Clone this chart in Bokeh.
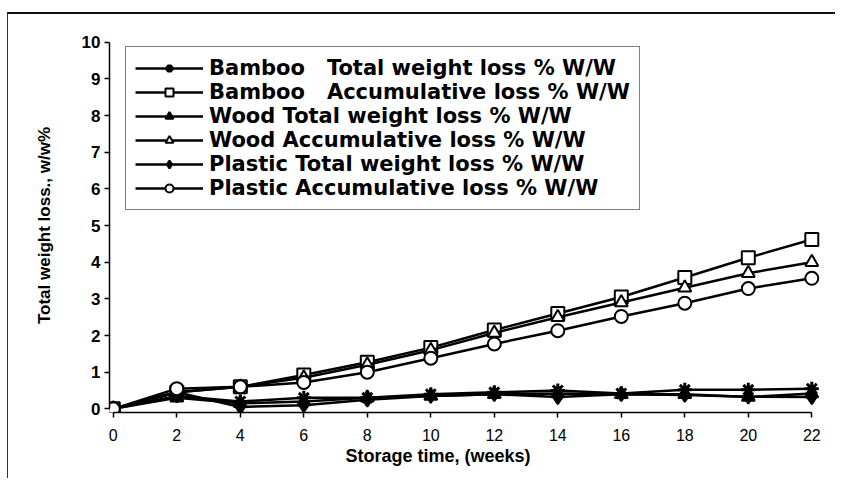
from bokeh.plotting import figure
from bokeh.models import Range1d, Legend, LegendItem, Title, FixedTicker
from bokeh.embed import file_html
from bokeh.resources import INLINE

weeks = [0, 2, 4, 6, 8, 10, 12, 14, 16, 18, 20, 22]
bamboo_total = [0, 0.35, 0.2, 0.3, 0.3, 0.4, 0.45, 0.5, 0.42, 0.52, 0.52, 0.55]
bamboo_accum = [0, 0.45, 0.6, 0.92, 1.27, 1.67, 2.15, 2.6, 3.05, 3.58, 4.12, 4.62]
wood_total = [0, 0.3, 0.15, 0.2, 0.3, 0.35, 0.4, 0.42, 0.4, 0.4, 0.32, 0.42]
wood_accum = [0, 0.45, 0.6, 0.85, 1.2, 1.6, 2.07, 2.5, 2.9, 3.3, 3.7, 4.0]
plastic_total = [0, 0.45, 0.05, 0.1, 0.25, 0.35, 0.4, 0.32, 0.4, 0.38, 0.33, 0.32]
plastic_accum = [0, 0.55, 0.6, 0.72, 1.0, 1.38, 1.77, 2.13, 2.52, 2.88, 3.28, 3.56]

labels = [
    "Bamboo   Total weight loss % W/W",
    "Bamboo   Accumulative loss % W/W",
    "Wood Total weight loss % W/W",
    "Wood Accumulative loss % W/W",
    "Plastic Total weight loss % W/W",
    "Plastic Accumulative loss % W/W",
]
x_ticks = [0, 2, 4, 6, 8, 10, 12, 14, 16, 18, 20, 22]
y_ticks = [0, 1, 2, 3, 4, 5, 6, 7, 8, 9, 10]

FONT = "Liberation Sans"
LFONT = "DejaVu Sans"

p = figure(width=828, height=466, output_backend="svg", toolbar_location=None,
           x_range=Range1d(-0.12, 22.4), y_range=Range1d(-0.1, 10.1),
           min_border_left=101, min_border_right=12, min_border_top=24, min_border_bottom=68)
p.styles = {"border-top": "2px solid #111", "border-left": "1px solid #333",
            "margin-top": "12px", "margin-left": "7px"}
p.outline_line_color = None
p.grid.grid_line_color = None
p.background_fill_color = "white"

for ax in (p.xaxis[0], p.yaxis[0]):
    ax.axis_line_color = "black"
    ax.axis_line_width = 1.5
    ax.major_tick_line_color = "black"
    ax.major_tick_line_width = 1.5
    ax.major_tick_in = 0
    ax.major_tick_out = 5
    ax.minor_tick_line_color = None
    ax.major_label_text_font = FONT
    ax.major_label_text_color = "black"

p.xaxis.bounds = (0, 22)
p.yaxis.bounds = (0, 10)
p.xaxis.ticker = FixedTicker(ticks=x_ticks)
p.yaxis.ticker = FixedTicker(ticks=y_ticks)
p.xaxis.major_label_text_font_size = "16px"
p.xaxis.major_label_standoff = 11
p.yaxis.major_label_text_font_size = "17px"
p.yaxis.major_label_text_font_style = "bold"
p.yaxis.major_label_standoff = 4

p.yaxis.axis_label = "Total weight loss., w/w%"
p.yaxis.axis_label_text_font = FONT
p.yaxis.axis_label_text_font_style = "bold"
p.yaxis.axis_label_text_font_size = "17px"
p.yaxis.axis_label_text_color = "black"
p.yaxis.axis_label_standoff = 25

p.add_layout(Title(text="Storage time, (weeks)", align="left", offset=236, standoff=0,
                   text_font=FONT, text_font_style="bold", text_font_size="18px",
                   text_color="black"), "below")

LW = 2.5
series = [
    (bamboo_total, "asterisk", 14, "black", 3.0),
    (bamboo_accum, "square", 13, "white", 2.0),
    (wood_total, "triangle", 13, "black", 2.0),
    (wood_accum, "triangle", 13, "white", 2.0),
    (plastic_total, "diamond", 14, "black", 2.0),
    (plastic_accum, "circle", 13, "white", 2.0),
]
items = []
for (ys, mk, sz, fill, mlw), lab in zip(series, labels):
    r1 = p.line(weeks, ys, line_color="black", line_width=LW)
    r2 = p.scatter(weeks, ys, marker=mk, size=sz, fill_color=fill, line_color="black", line_width=mlw)
    items.append(LegendItem(label=lab, renderers=[r1, r2]))

legend = Legend(items=items, location=(16, 202), orientation="vertical",
                label_text_font=LFONT, label_text_font_style="bold", label_text_font_size="21px",
                label_text_color="black", glyph_width=68, glyph_height=20, label_height=20,
                spacing=0, padding=9, margin=0, label_standoff=6,
                border_line_color="black", border_line_width=1.5, background_fill_alpha=1)
p.add_layout(legend, "center")

open("out.html", "w").write(file_html(p, INLINE))
